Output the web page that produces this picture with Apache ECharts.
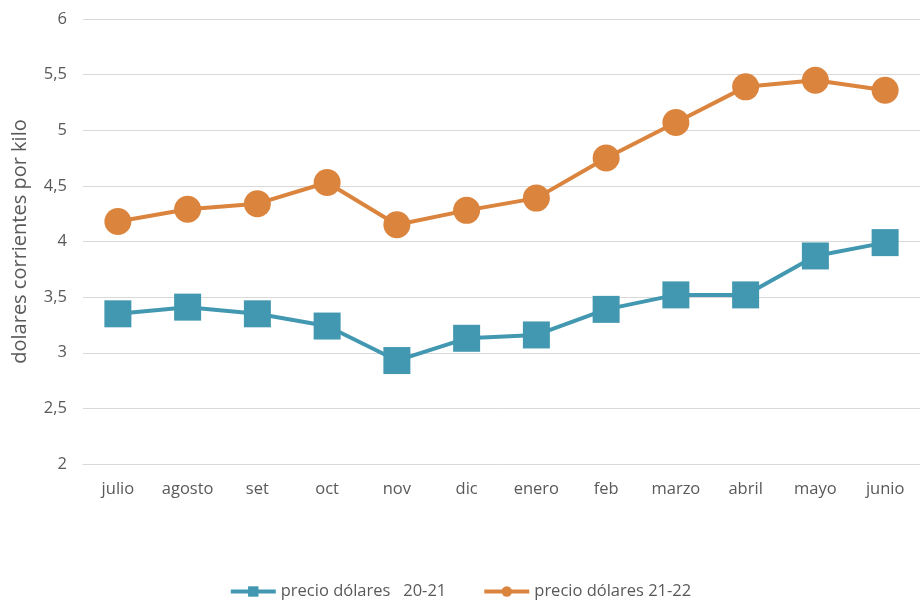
<!DOCTYPE html>
<html>
<head>
<meta charset="utf-8">
<script src="https://cdn.jsdelivr.net/npm/echarts@6/dist/echarts.min.js"></script>
<style>
  html, body { margin: 0; padding: 0; background: #fff; }
  #main { width: 920px; height: 605px; }
</style>
</head>
<body>
<div id="main"></div>
<script>
var meses = ['julio', 'agosto', 'set', 'oct', 'nov', 'dic', 'enero', 'feb', 'marzo', 'abril', 'mayo', 'junio'];
var precio2021 = [3.35, 3.41, 3.35, 3.24, 2.93, 3.13, 3.16, 3.39, 3.52, 3.52, 3.87, 3.99];
var precio2122 = [4.18, 4.29, 4.34, 4.53, 4.15, 4.28, 4.39, 4.75, 5.07, 5.39, 5.45, 5.36];

var myChart = echarts.init(document.getElementById('main'));

var fuente = 'Open Sans';
var gris = '#595959';

var option = {
    animation: false,
    textStyle: { fontFamily: fuente },
    grid: { left: 83, right: 0, top: 19, bottom: 141, outerBoundsMode: 'none', containLabel: false },
    legend: {
        bottom: 0,
        left: 'center',
        itemWidth: 45,
        itemHeight: 13,
        itemGap: 36,
        textStyle: { fontSize: 16.5, color: gris, fontFamily: fuente },
        lineStyle: { width: 4 },
        data: ['precio dólares   20-21', 'precio dólares 21-22']
    },
    xAxis: {
        type: 'category',
        data: meses,
        axisLine: { lineStyle: { color: '#d9d9d9', width: 1 } },
        axisTick: { show: false },
        axisLabel: { fontSize: 16.5, color: gris, margin: 17 }
    },
    yAxis: {
        type: 'value',
        min: 2,
        max: 6,
        interval: 0.5,
        name: 'dolares corrientes por kilo',
        nameLocation: 'middle',
        nameGap: 53,
        nameTextStyle: { fontSize: 20, color: gris },
        axisLine: { show: false },
        axisTick: { show: false },
        splitLine: { lineStyle: { color: '#d9d9d9', width: 1 } },
        axisLabel: {
            fontSize: 16.5,
            color: gris,
            margin: 16,
            formatter: function (v) { return String(v).replace('.', ','); }
        }
    },
    series: [
        {
            name: 'precio dólares   20-21',
            type: 'line',
            data: precio2021,
            symbol: 'rect',
            symbolSize: 27,
            itemStyle: { color: '#4298b0' },
            lineStyle: { color: '#4298b0', width: 4 }
        },
        {
            name: 'precio dólares 21-22',
            type: 'line',
            data: precio2122,
            symbol: 'circle',
            symbolSize: 27,
            itemStyle: { color: '#db843d' },
            lineStyle: { color: '#db843d', width: 4 }
        }
    ]
};

myChart.setOption(option);
</script>
</body>
</html>
